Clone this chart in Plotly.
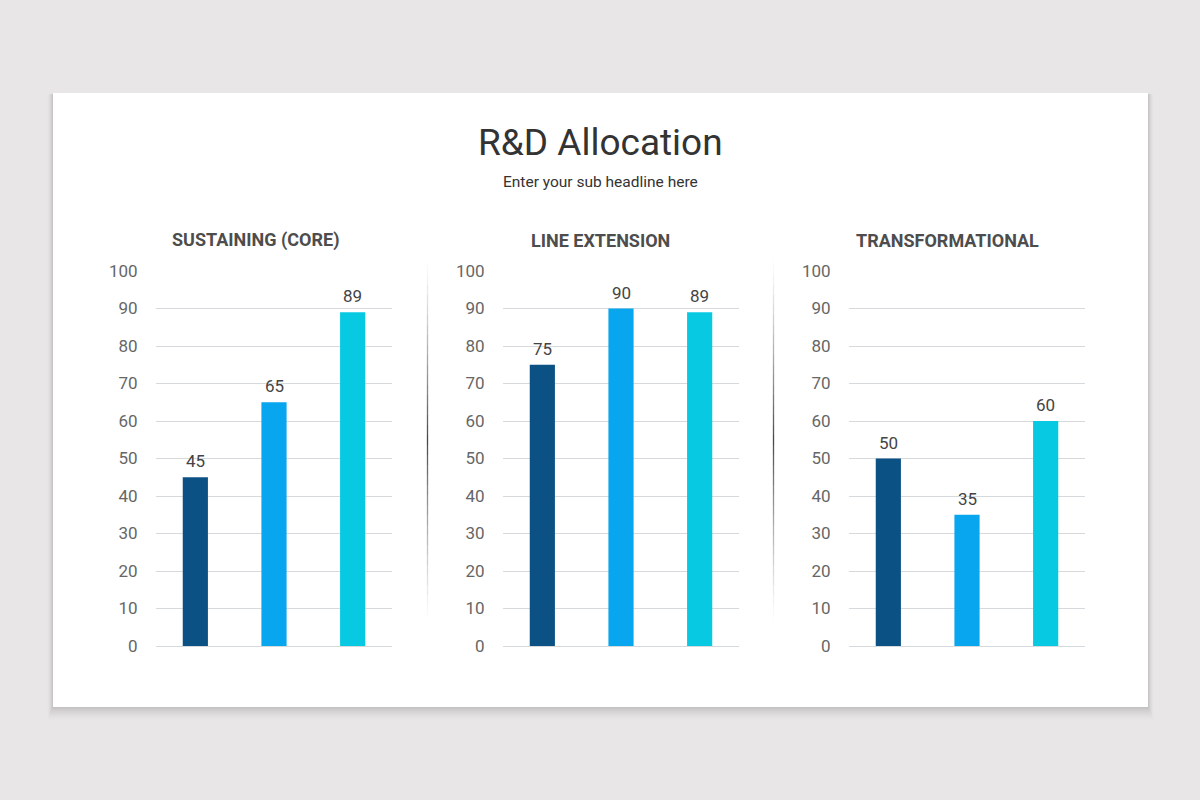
import plotly.graph_objects as go
from plotly.subplots import make_subplots

W, H = 1200, 800

# chart data
panel_titles = ["SUSTAINING (CORE)", "LINE EXTENSION", "TRANSFORMATIONAL"]
categories = ["A", "B", "C"]
sustaining = [45, 65, 89]
line_extension = [75, 90, 89]
transformational = [50, 35, 60]
y_ticks = [0, 10, 20, 30, 40, 50, 60, 70, 80, 90, 100]

bar_colors = ["#0b5184", "#08a6ee", "#08c9e2"]


def px_x(x):
    return x / W


def px_y(y):
    return 1 - y / H


fig = make_subplots(rows=1, cols=3)

annotations = []
series = [sustaining, line_extension, transformational]
for i, vals in enumerate(series):
    fig.add_trace(
        go.Bar(
            x=categories,
            y=vals,
            marker_color=bar_colors,
            marker_line_width=0,
            hoverinfo="skip",
        ),
        row=1, col=i + 1,
    )
    # value labels sitting a little above each bar
    n = "" if i == 0 else str(i + 1)
    for c, v in zip(categories, vals):
        annotations.append(dict(
            x=c, y=v, xref="x" + n, yref="y" + n, text=str(v),
            showarrow=False, xanchor="center", yanchor="bottom", yshift=4,
            font=dict(family="Roboto", size=17, color="#444444"),
        ))

# plot area positions (pixels)
x_domains = [(156, 392), (503, 739), (849, 1085)]
y_domain = [px_y(646), px_y(271)]
title_centers = [255, 600, 947]

for i, (x0, x1) in enumerate(x_domains):
    n = "" if i == 0 else str(i + 1)
    fig.layout["xaxis" + n].update(
        domain=[px_x(x0), px_x(x1)], automargin=False,
        showticklabels=False, showgrid=False, zeroline=False,
        showline=False, ticks="", fixedrange=True,
    )
    fig.layout["yaxis" + n].update(
        domain=y_domain, range=[0, 100], automargin=False,
        tickvals=y_ticks, ticktext=[str(t) for t in y_ticks],
        tickfont=dict(family="Roboto", size=17, color="#666666"),
        showgrid=True, gridcolor="#d7dadd", gridwidth=1,
        zeroline=True, zerolinecolor="#d7dadd", zerolinewidth=1,
        showline=False, ticks="outside", ticklen=14, tickcolor="rgba(0,0,0,0)",
        fixedrange=True,
    )

shapes = []
# soft card shadow
for k, op in enumerate([0.03, 0.025, 0.02, 0.018, 0.015, 0.012, 0.01, 0.008]):
    d = k + 1
    shapes.append(dict(
        type="rect", xref="paper", yref="paper", layer="below",
        x0=px_x(53 - d * 0.7), x1=px_x(1148 + d * 0.7),
        y0=px_y(707 + d * 1.6), y1=px_y(93 + d * 0.2),
        fillcolor="rgba(0,0,0,%.3f)" % op, line_width=0,
    ))
# white card
shapes.append(dict(
    type="rect", xref="paper", yref="paper", layer="below",
    x0=px_x(53), x1=px_x(1148), y0=px_y(707), y1=px_y(93),
    fillcolor="#ffffff", line_width=0,
))
# faded vertical separators
for sx in [427.5, 773.5]:
    top, bot, mid = 255, 625, 440
    steps = 37
    seg = (bot - top) / steps
    for s in range(steps):
        y0 = top + s * seg
        yc = y0 + seg / 2
        dist = abs(yc - mid) / (bot - mid if yc > mid else mid - top)
        op = max(0.0, 0.85 * (1 - dist) ** 1.3)
        shapes.append(dict(
            type="line", xref="paper", yref="paper",
            x0=px_x(sx), x1=px_x(sx), y0=px_y(y0), y1=px_y(y0 + seg),
            line=dict(color="rgba(40,40,40,%.3f)" % op, width=1.3),
        ))

annotations += [
    dict(text="R&D Allocation", x=px_x(600), y=px_y(142), xref="paper", yref="paper",
         showarrow=False, xanchor="center", yanchor="middle",
         font=dict(family="Roboto", size=37, color="#333333")),
    dict(text="Enter your sub headline here", x=px_x(600), y=px_y(182), xref="paper", yref="paper",
         showarrow=False, xanchor="center", yanchor="middle",
         font=dict(family="Roboto", size=15.5, color="#333333")),
]
for t, cx in zip(panel_titles, title_centers):
    annotations.append(dict(
        text="<b>" + t + "</b>", x=px_x(cx), y=px_y(240), xref="paper", yref="paper",
        showarrow=False, xanchor="center", yanchor="middle",
        font=dict(family="Roboto", size=18, color="#4d4d4d"),
    ))

fig.update_layout(
    width=W, height=H,
    margin=dict(l=0, r=0, t=0, b=0, autoexpand=False),
    paper_bgcolor="#e8e6e7",
    plot_bgcolor="rgba(0,0,0,0)",
    showlegend=False,
    bargap=0.68,
    shapes=shapes,
    annotations=annotations,
    font=dict(family="Roboto"),
)

fig.write_html(
    "out.html",
    config={"displayModeBar": False},
    post_script="document.body.style.margin='0';",
)
